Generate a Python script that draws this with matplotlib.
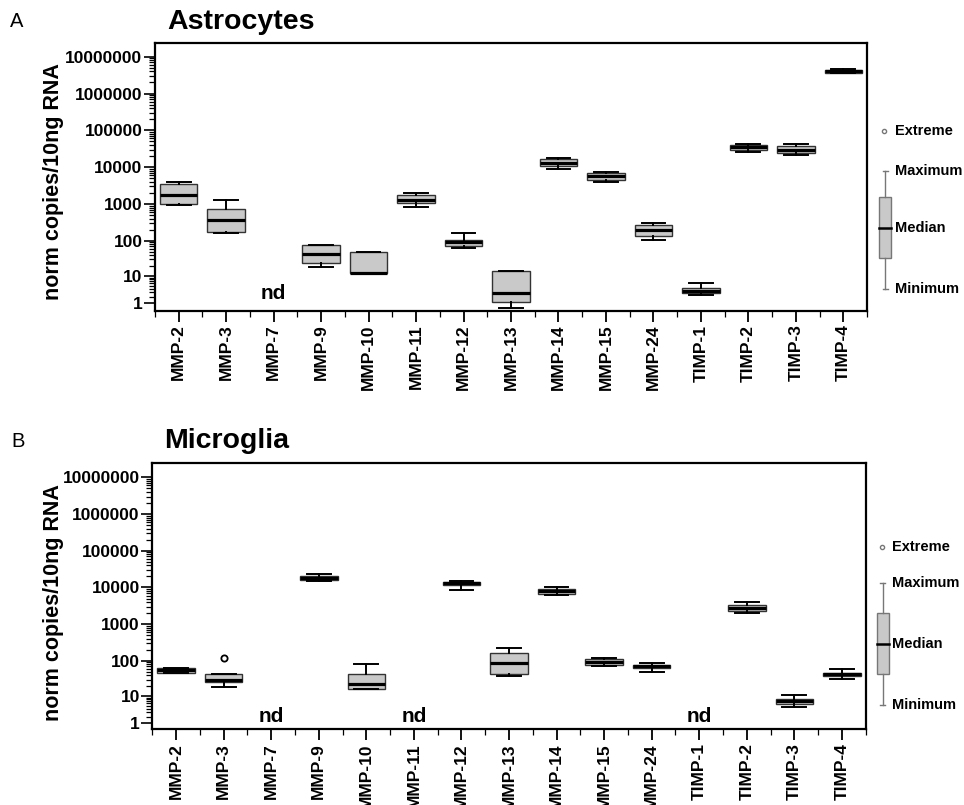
import numpy as np
import matplotlib
matplotlib.use("Agg")
import matplotlib.pyplot as plt
from matplotlib.patches import Rectangle
from matplotlib.ticker import FixedLocator, FixedFormatter

plt.rcParams['font.family'] = ['Liberation Sans', 'DejaVu Sans']

genes = ['MMP-2', 'MMP-3', 'MMP-7', 'MMP-9', 'MMP-10', 'MMP-11', 'MMP-12', 'MMP-13',
         'MMP-14', 'MMP-15', 'MMP-24', 'TIMP-1', 'TIMP-2', 'TIMP-3', 'TIMP-4']

# astrocytes (None = not detected)
astro_lo = [940, 160, None, 18, 12, 850, 64, 0.46, 8700, 3900, 104, 2.4, 26000, 21500, 3.5e6]
astro_q1 = [1000, 175, None, 24, 12, 1040, 71, 1.2, 10500, 4600, 134, 2.8, 30000, 24500, 3.7e6]
astro_med = [1800, 375, None, 42, 12, 1280, 90, 2.8, 13000, 5750, 190, 3.3, 35000, 30000, 4.05e6]
astro_q3 = [3400, 750, None, 75, 50, 1750, 107, 14, 16200, 7100, 275, 4.2, 41000, 38000, 4.4e6]
astro_hi = [3900, 1280, None, 75, 50, 2000, 160, 14, 17600, 7600, 295, 6.1, 41500, 41500, 4.7e6]
astro_fliers = {}

# microglia
micro_lo = [45, 19, None, 15200, 16, None, 8700, 37, 6300, 71, 49, None, 2070, 4.6, 32]
micro_q1 = [46, 25, None, 16300, 16.5, None, 11700, 44, 6700, 77, 62, None, 2350, 5.7, 38]
micro_med = [55, 30, None, 18200, 23, None, 12900, 89, 7900, 93, 70, None, 2800, 6.9, 43]
micro_q3 = [62, 43, None, 21000, 43, None, 14500, 158, 9300, 114, 77, None, 3350, 8.1, 47]
micro_hi = [62, 43, None, 23700, 80, None, 15300, 220, 10500, 120, 89, None, 4050, 11, 59]
micro_fliers = {1: [118]}

major_vals = [1, 10, 100, 1000, 10000, 100000, 1000000, 10000000]
major_labels = [str(v) for v in major_vals]

fwd = lambda x: np.log10(np.clip(x, 0, None) + 1)
inv = lambda v: 10 ** v - 1

fig = plt.figure(figsize=(9.64, 8.05), dpi=100)
W, H = 964, 805


def panel(rect_px, lo, q1, med, q3, hi, fliers, ylim, nd_y):
    l, t, r, b = rect_px
    ax = fig.add_axes([l / W, 1 - b / H, (r - l) / W, (b - t) / H])
    ax.set_yscale('function', functions=(fwd, inv))
    stats, pos = [], []
    for i in range(len(genes)):
        if med[i] is None:
            continue
        stats.append(dict(med=med[i], q1=q1[i], q3=q3[i], whislo=lo[i], whishi=hi[i],
                          fliers=fliers.get(i, [])))
        pos.append(i)
    ax.bxp(stats, positions=pos, widths=0.79, capwidths=0.5, patch_artist=True,
           boxprops=dict(facecolor='#c9c9c9', edgecolor='#333333', linewidth=1.0),
           medianprops=dict(color='black', linewidth=2.3),
           whiskerprops=dict(color='black', linewidth=1.4),
           capprops=dict(color='black', linewidth=1.4),
           flierprops=dict(marker='o', markerfacecolor='none', markeredgecolor='black',
                           markersize=4.5, markeredgewidth=1.3))
    for i in range(len(genes)):
        if med[i] is None:
            ax.text(i, nd_y, 'nd', ha='center', va='center', fontsize=15, fontweight='bold')
    ax.set_xlim(-0.5, 14.5)
    ax.set_ylim(*ylim)
    ax.yaxis.set_major_locator(FixedLocator(major_vals))
    ax.yaxis.set_major_formatter(FixedFormatter(major_labels))
    minors = [k * 10 ** d for d in range(0, 7) for k in range(2, 10)]
    ax.yaxis.set_minor_locator(FixedLocator(minors))
    ax.yaxis.set_minor_formatter(FixedFormatter([''] * len(minors)))
    ax.set_xticks(range(len(genes)))
    ax.set_xticklabels(genes, rotation=90, fontsize=12.5, fontweight='bold')
    ax.set_xticks(np.arange(-0.5, 14.6, 1.0), minor=True)
    for lab in ax.get_yticklabels():
        lab.set_fontweight('bold')
        lab.set_fontsize(12.5)
    ax.tick_params(axis='y', which='major', length=8, width=1.2, pad=1)
    ax.tick_params(axis='y', which='minor', length=4, width=0.9)
    ax.tick_params(axis='x', which='major', length=8, width=1.3, pad=2)
    ax.tick_params(axis='x', which='minor', length=4, width=0.9)
    for s in ax.spines.values():
        s.set_linewidth(1.6)
    return ax


panel((155, 42.7, 867, 310.7), astro_lo, astro_q1, astro_med, astro_q3, astro_hi,
      astro_fliers, (0.26, 2.4e7), 2.8)
panel((152.3, 462.7, 865.7, 729.3), micro_lo, micro_q1, micro_med, micro_q3, micro_hi,
      micro_fliers, (0.37, 2.5e7), 2.1)

# titles, panel letters, y labels
fig.text(10 / W, 1 - 27.3 / H, 'A', fontsize=14.5, va='baseline')
fig.text(167 / W, 1 - 29.3 / H, 'Astrocytes', fontsize=20.5, fontweight='bold', va='baseline')
fig.text(11.7 / W, 1 - 447.3 / H, 'B', fontsize=14.5, va='baseline')
fig.text(164 / W, 1 - 448.3 / H, 'Microglia', fontsize=20.5, fontweight='bold', va='baseline')
fig.text(54 / W, 1 - 182 / H, 'norm copies/10ng RNA', rotation=90, fontsize=15.5,
         fontweight='bold', ha='center', va='center')
fig.text(54 / W, 1 - 603 / H, 'norm copies/10ng RNA', rotation=90, fontsize=15.5,
         fontweight='bold', ha='center', va='center')

# key drawn in pixel space
key = fig.add_axes([0, 0, 1, 1])
key.set_xlim(0, W)
key.set_ylim(H, 0)
key.axis('off')


def draw_key(x0, x1, y_ext, y_max, y_q3, y_med, y_q1, y_min, mx, tx):
    xc = (x0 + x1) / 2
    key.plot([mx], [y_ext], 'o', markersize=3, markerfacecolor='none',
             markeredgecolor='#777777', markeredgewidth=1)
    key.plot([xc, xc], [y_max, y_q3], color='#777777', lw=1)
    key.plot([xc, xc], [y_q1, y_min], color='#777777', lw=1)
    key.plot([xc - 2.5, xc + 2.5], [y_max, y_max], color='#777777', lw=1)
    key.plot([xc - 2.5, xc + 2.5], [y_min, y_min], color='#777777', lw=1)
    key.add_patch(Rectangle((x0, y_q3), x1 - x0, y_q1 - y_q3, facecolor='#c9c9c9',
                            edgecolor='#777777', lw=1))
    key.plot([x0, x1], [y_med, y_med], color='black', lw=1.8)
    for y, s in [(y_ext, 'Extreme'), (y_max, 'Maximum'), (y_med, 'Median'), (y_min, 'Minimum')]:
        key.text(tx, y, s, fontsize=10.5, fontweight='bold', va='center', ha='left')


draw_key(879, 891, 131, 171, 197, 228, 258, 289, 884, 895)
draw_key(876.7, 888.7, 547, 583, 613, 644, 674, 705, 882, 892)

fig.savefig('out.png', dpi=100)
